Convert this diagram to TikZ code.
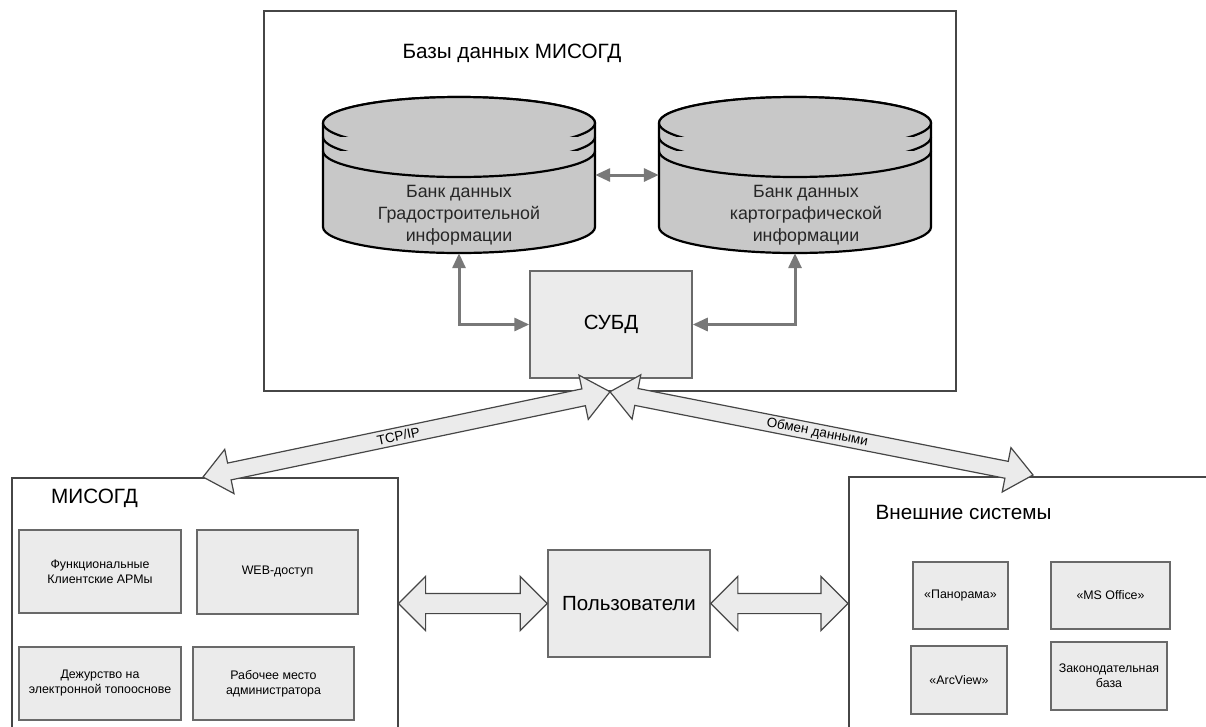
\documentclass[tikz,border=0pt]{standalone}
\usepackage{fontspec}
\setmainfont{Liberation Sans}
\usetikzlibrary{arrows.meta,calc,positioning,shapes.arrows}
\definecolor{cylFill}{RGB}{200,200,200}
\definecolor{boxFill}{RGB}{235,235,235}
\definecolor{boxLine}{RGB}{105,105,105}
\definecolor{arrowGray}{RGB}{120,120,120}
\definecolor{frameLine}{RGB}{70,70,70}

% hollow double arrow between two points, as a node
\newcommand{\fatArrow}[4]{%
  \path let \p1=(#2), \p2=(#3),
    \n1={veclen(\x2-\x1,\y2-\y1)}, \n2={atan2(\y2-\y1,\x2-\x1)} in
    node[#1, minimum height=\n1, rotate=\n2] (#4) at ($(#2)!0.5!(#3)$) {};}

% data bank drum: centre x, name
\newcommand{\dbCylinder}[2]{%
  \filldraw[drum] (#1-136,123) -- (#1-136,227)
    arc[start angle=180,end angle=360,x radius=136pt,y radius=26pt]
    -- (#1+136,123)
    arc[start angle=0,end angle=180,x radius=136pt,y radius=26pt] -- cycle;
  \draw[drum] (#1,123) ellipse[x radius=136pt,y radius=26pt];
  \draw[drum] (#1-136,137) arc[start angle=180,end angle=360,x radius=136pt,y radius=26pt];
  \draw[drum] (#1-136,151) arc[start angle=180,end angle=360,x radius=136pt,y radius=26pt];
  \node[drumbody] (#2) at (#1,175) {};}

\begin{document}
\begin{tikzpicture}[x=1pt,y=-1pt,
    frame/.style={draw=frameLine,line width=1.5pt,fill=white,inner sep=0pt},
    heading/.style={font=\fontsize{20.7}{24}\selectfont,inner sep=0pt},
    item/.style={draw=boxLine,fill=boxFill,line width=1.5pt,inner sep=0pt,
      align=center,font=\fontsize{12.4}{15}\selectfont},
    bigitem/.style={item,font=\fontsize{20.5}{24}\selectfont},
    drum/.style={draw=black,fill=cylFill,line width=2.2pt},
    drumbody/.style={inner sep=0pt,minimum width=272pt,minimum height=156pt},
    drumtext/.style={font=\fontsize{17.8}{22}\selectfont,align=center,
      inner sep=0pt,text=black!85},
    link/.style={draw=arrowGray,line width=3pt,
      {Triangle[length=15pt,width=13pt]}-{Triangle[length=15pt,width=13pt]}},
    fatlink/.style={double arrow,draw=frameLine,fill=boxFill,line width=1.2pt,
      inner xsep=0pt,inner ysep=8pt,double arrow head extend=14pt,
      double arrow tip angle=80,double arrow head indent=0pt},
    widelink/.style={fatlink,inner ysep=9.5pt,double arrow head extend=17pt,
      double arrow tip angle=90},
    linklabel/.style={font=\fontsize{13.5}{15}\selectfont,inner sep=0pt}]
  \useasboundingbox (0,0) rectangle (1206,726);
  \clip (0,0) rectangle (1206,726);

  % databases
  \node[frame,minimum width=692pt,minimum height=380pt] (dbframe) at (610,201) {};
  \node[heading] (dbtitle) at (512,53) {Базы данных МИСОГД};
  \dbCylinder{459}{gradbank}
  \dbCylinder{795}{kartbank}
  \node[drumtext] (gradtext) at (459,215) {Банк данных\\Градостроительной\\информации};
  \node[drumtext] (karttext) at (806,215) {Банк данных\\картографической\\информации};
  \node[bigitem,minimum width=162pt,minimum height=107pt] (subd) at (611,324.5) {СУБД};
  \draw[link] (gradbank.east) -- (kartbank.west);
  \draw[link] (gradbank.south) |- (subd.west);
  \draw[link] (kartbank.south) |- (subd.east);

  % MISOGD
  \node[frame,anchor=north west,minimum width=386pt,minimum height=300pt] (misogd) at (11,477) {};
  \node[heading] (misogdtitle) at (94.5,498) {МИСОГД};
  \node[item,minimum width=162pt,minimum height=83pt] (funcarm) at (100,571.5) {Функциональные\\Клиентские АРМы};
  \node[item,minimum width=161pt,minimum height=84pt] (webaccess) at (277.5,572) {WEB-доступ};
  \node[item,minimum width=162pt,minimum height=73pt] (duty) at (100,683.5) {Дежурство на\\электронной топооснове};
  \node[item,minimum width=161pt,minimum height=73pt] (admin) at (273.5,683.5) {Рабочее место\\администратора};

  % external systems
  \node[frame,anchor=north west,minimum width=400pt,minimum height=300pt] (extsys) at (848,476) {};
  \node[heading] (extsystitle) at (963.5,512) {Внешние системы};
  \node[item,minimum width=95pt,minimum height=67pt] (panorama) at (960.5,595.5) {«Панорама»};
  \node[item,minimum width=119pt,minimum height=67pt] (msoffice) at (1110.5,595.5) {«MS Office»};
  \node[item,minimum width=96pt,minimum height=68pt] (arcview) at (959,680) {«ArcView»};
  \node[item,minimum width=116pt,minimum height=68pt] (lawbase) at (1109,676) {Законодательная\\база};

  % users
  \node[bigitem,minimum width=162pt,minimum height=107pt] (users) at (629,603.5) {Пользователи};

  \coordinate (tcpend) at (203,477);
  \coordinate (obmend) at (1033,475);
  \fatArrow{fatlink}{tcpend}{dbframe.south}{tcparrow}
  \fatArrow{fatlink}{dbframe.south}{obmend}{obmarrow}
  \fatArrow{widelink}{users.west -| misogd.east}{users.west}{leftarrow}
  \fatArrow{widelink}{users.east}{users.east -| extsys.west}{rightarrow}
  \path (tcpend) -- node[linklabel,pos=0.48,sloped] (tcplabel) {TCP/IP} (dbframe.south);
  \path (dbframe.south) -- node[linklabel,pos=0.49,sloped] (obmlabel) {Обмен данными} (obmend);
\end{tikzpicture}
\end{document}
